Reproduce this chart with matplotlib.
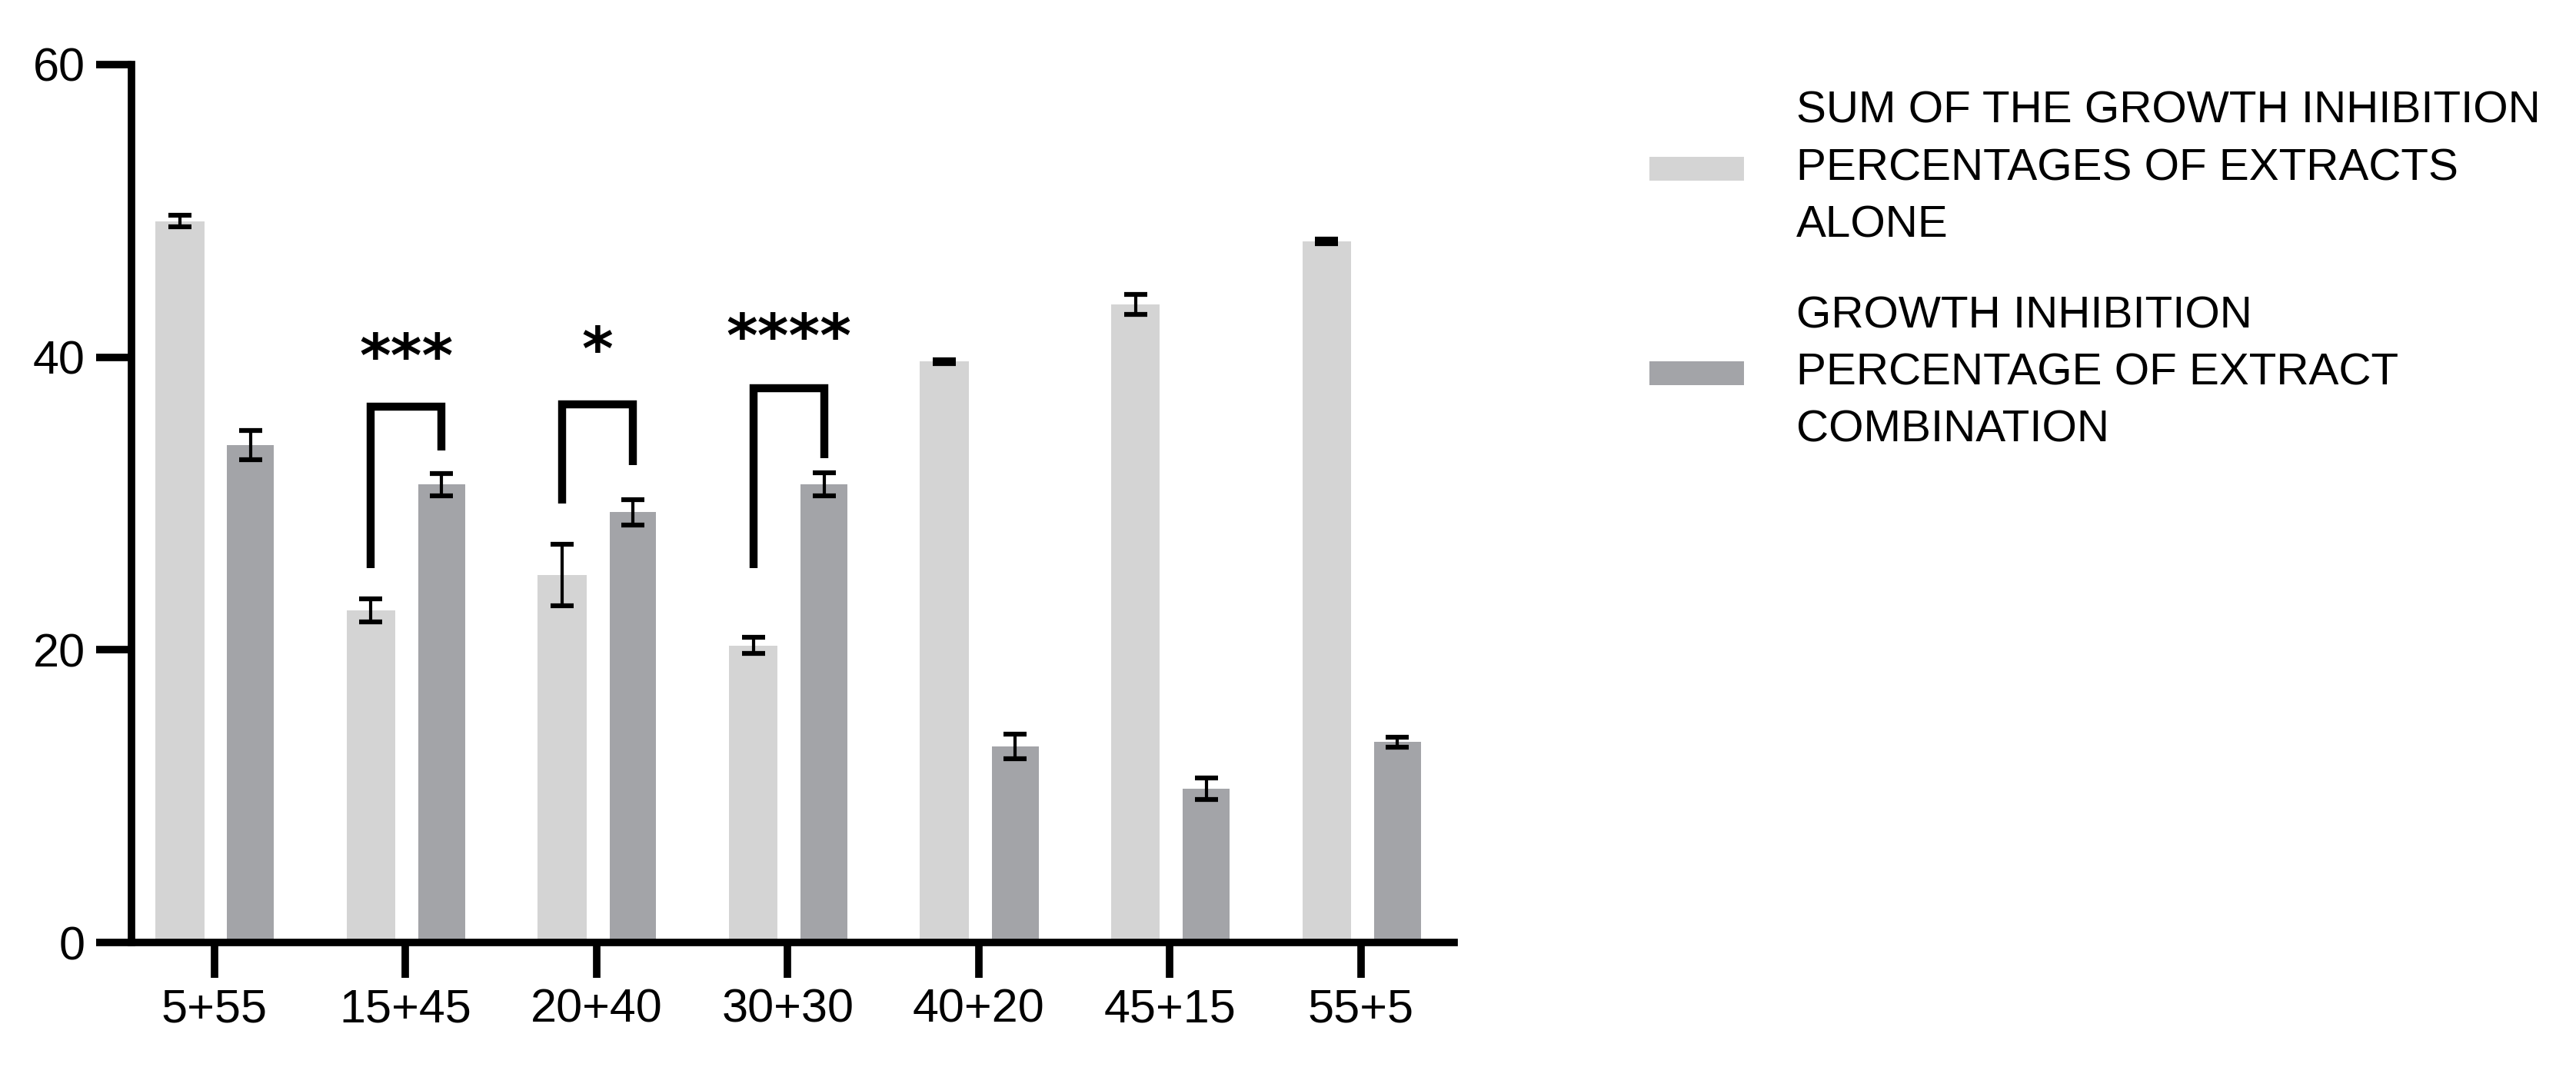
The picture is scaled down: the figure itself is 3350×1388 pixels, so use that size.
import numpy as np
import matplotlib
matplotlib.use("Agg")
import matplotlib.pyplot as plt
from matplotlib.patches import Patch

plt.rcParams['font.family'] = ['Liberation Sans', 'DejaVu Sans']

# combinations of the two extracts
combos = ["5+55", "15+45", "20+40", "30+30", "40+20", "45+15", "55+5"]

# sum of the growth inhibition percentages of extracts alone
sum_alone = [49.3, 22.7, 25.1, 20.3, 39.7, 43.6, 47.9]
sum_alone_err = [0.4, 0.8, 2.1, 0.55, 0.15, 0.7, 0.15]

# growth inhibition percentage of extract combination
combo_val = [34.0, 31.3, 29.4, 31.3, 13.4, 10.5, 13.7]
combo_err = [1.0, 0.75, 0.85, 0.8, 0.85, 0.75, 0.35]

# significance brackets
sig_idx = [1, 2, 3]
sig_text = ["***", "*", "****"]
sig_top = [36.6, 36.8, 37.9]
sig_left_end = [25.6, 30.0, 25.6]
sig_right_end = [33.6, 32.65, 33.1]
sig_text_y = [39.8, 40.3, 41.2]

light = "#d4d4d4"
dark = "#a3a4a8"

fig = plt.figure(figsize=(33.5, 13.88), dpi=100)
ax = fig.add_axes([0.0509, 0.1167, 0.5136, 0.8228])

x = np.arange(len(combos))
off_l, off_d = -0.18, 0.19

ax.bar(x + off_l, sum_alone, width=0.255, color=light, zorder=2)
ax.bar(x + off_d, combo_val, width=0.245, color=dark, zorder=2)
ax.errorbar(x + off_l, sum_alone, yerr=sum_alone_err, fmt='none', ecolor='black',
            elinewidth=3, capsize=10.5, capthick=4.5, zorder=3)
ax.errorbar(x + off_d, combo_val, yerr=combo_err, fmt='none', ecolor='black',
            elinewidth=3, capsize=10.5, capthick=4.5, zorder=3)

for i, txt, top, yl, yr, ty in zip(sig_idx, sig_text, sig_top, sig_left_end, sig_right_end, sig_text_y):
    ax.plot([i + off_l, i + off_l, i + off_d, i + off_d], [yl, top, top, yr],
            color='black', lw=7.5, solid_joinstyle='miter', solid_capstyle='butt', zorder=4)
    ax.text(i + (off_l + off_d) / 2, ty, txt, ha='center', va='center',
            fontsize=56, fontweight='heavy', family='DejaVu Sans')

ax.set_xlim(-0.435, 6.487)
ax.set_ylim(0, 60)
ax.set_yticks([0, 20, 40, 60])
ax.set_xticks(x)
ax.set_xticklabels(combos)

for s in ['top', 'right']:
    ax.spines[s].set_visible(False)
for s in ['left', 'bottom']:
    ax.spines[s].set_linewidth(7)
    ax.spines[s].set_capstyle('projecting')
ax.tick_params(axis='both', labelsize=44, width=7, length=33, pad=10, direction='out')

handles = [Patch(facecolor=light, edgecolor='none'), Patch(facecolor=dark, edgecolor='none')]
labels = ["SUM OF THE GROWTH INHIBITION\nPERCENTAGES OF EXTRACTS\nALONE",
          "GROWTH INHIBITION\nPERCENTAGE OF EXTRACT\nCOMBINATION"]
leg = fig.legend(handles, labels, loc='upper left', bbox_to_anchor=(2145 / 3350, 1 - 118 / 1388),
                 frameon=False, fontsize=42, handlelength=2.1, handleheight=0.44,
                 handletextpad=1.17, labelspacing=1.1, borderpad=0, borderaxespad=0)
for t in leg.get_texts():
    t.set_linespacing(1.48)

fig.savefig("out.png", dpi=100)
